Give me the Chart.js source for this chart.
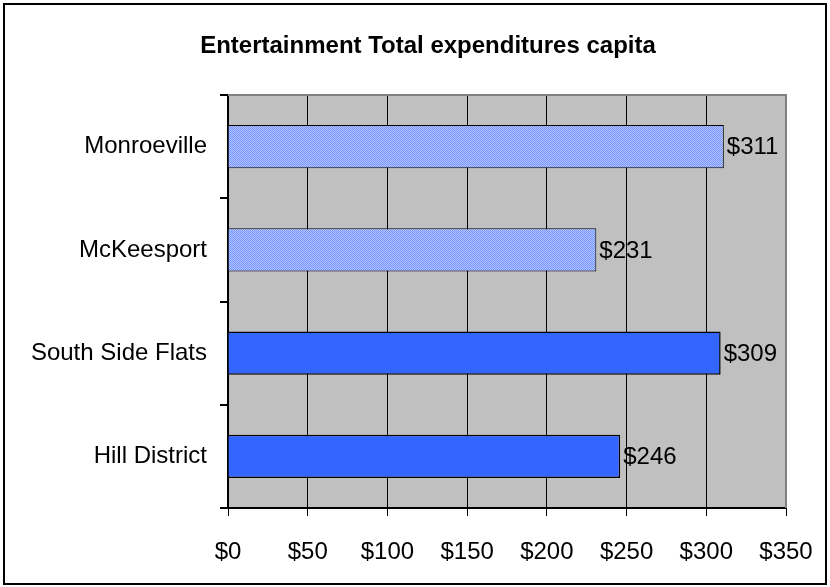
<!DOCTYPE html>
<html>
<head>
<meta charset="utf-8">
<script src="https://cdn.jsdelivr.net/npm/chart.js@4/dist/chart.umd.min.js"></script>
<style>
  html, body { margin: 0; padding: 0; background: #ffffff; }
  #wrap { width: 830px; height: 587px; position: relative; }
</style>
</head>
<body>
<div id="wrap"><canvas id="c" width="830" height="587"></canvas></div>
<script>
const chartTitle = 'Entertainment Total expenditures capita';
const categories = ['Monroeville', 'McKeesport', 'South Side Flats', 'Hill District'];
const expenditures = [311, 231, 309, 246];
const patterned = [true, true, false, false];
const xTickMax = 350;
const xTickStep = 50;

const FONT = '"Liberation Sans", Arial, sans-serif';

// small checkered fill used for the lighter bars
function makeChecker() {
  const p = document.createElement('canvas');
  p.width = 2; p.height = 2;
  const g = p.getContext('2d');
  g.fillStyle = '#b4c4ff'; g.fillRect(0, 0, 2, 2);
  g.fillStyle = '#7695ff'; g.fillRect(0, 0, 1, 1); g.fillRect(1, 1, 1, 1);
  return g.createPattern(p, 'repeat');
}
const ctxMain = document.getElementById('c').getContext('2d');
const checker = makeChecker();

const decor = {
  id: 'decor',
  beforeDraw(chart) {
    const { ctx, chartArea: a } = chart;
    ctx.save();
    ctx.fillStyle = '#ffffff';
    ctx.fillRect(0, 0, chart.width, chart.height);
    ctx.fillStyle = '#c0c0c0';
    ctx.fillRect(a.left, a.top, a.right - a.left, a.bottom - a.top);
    ctx.restore();
  },
  afterDatasetsDraw(chart) {
    const { ctx, chartArea: a } = chart;
    ctx.save();
    // plot frame top and right
    ctx.strokeStyle = '#808080';
    ctx.lineWidth = 2;
    ctx.beginPath();
    ctx.moveTo(a.left, a.top);
    ctx.lineTo(a.right, a.top);
    ctx.lineTo(a.right, a.bottom);
    ctx.stroke();
    // value labels
    const meta = chart.getDatasetMeta(0);
    ctx.fillStyle = '#000000';
    ctx.font = '24px ' + FONT;
    ctx.textAlign = 'left';
    ctx.textBaseline = 'middle';
    meta.data.forEach((bar, i) => {
      ctx.fillText('$' + expenditures[i], bar.x + 3, bar.y + 1);
    });
    ctx.restore();
  },
  afterDraw(chart) {
    const { ctx } = chart;
    ctx.save();
    ctx.fillStyle = '#000000';
    ctx.font = 'bold 24px ' + FONT;
    ctx.textAlign = 'center';
    ctx.textBaseline = 'middle';
    ctx.fillText(chartTitle, 428, 46);
    ctx.strokeStyle = '#000000';
    ctx.lineWidth = 2;
    ctx.strokeRect(4, 4, 822, 580);
    ctx.restore();
  }
};

new Chart(ctxMain, {
  type: 'bar',
  data: {
    labels: categories,
    datasets: [{
      data: expenditures,
      backgroundColor: patterned.map(p => p ? checker : '#3366ff'),
      borderColor: '#000000',
      borderWidth: patterned.map(p => p ? 1 : 1.5),
      barPercentage: 0.42,
      categoryPercentage: 1.0
    }]
  },
  options: {
    indexAxis: 'y',
    responsive: false,
    animation: false,
    devicePixelRatio: 1,
    layout: { padding: { top: 95, right: 44, bottom: 0, left: 0 } },
    plugins: { legend: { display: false }, title: { display: false }, tooltip: { enabled: false } },
    scales: {
      x: {
        min: 0,
        max: xTickMax,
        ticks: {
          stepSize: xTickStep,
          color: '#000000',
          font: { family: FONT, size: 24 },
          padding: 22,
          callback: v => '$' + v
        },
        grid: { color: '#000000', lineWidth: 1, tickLength: 8, drawOnChartArea: true },
        border: { color: '#000000', width: 2 },
        afterFit(s) { s.height = 79; s.paddingLeft = 0; s.paddingRight = 0; }
      },
      y: {
        offset: true,
        ticks: {
          color: '#000000',
          font: { family: FONT, size: 24 },
          padding: 13
        },
        grid: { offset: true, drawOnChartArea: false, color: '#000000', lineWidth: 2, tickLength: 8 },
        border: { color: '#000000', width: 2 },
        afterFit(s) { s.width = 228; }
      }
    }
  },
  plugins: [decor]
});
</script>
</body>
</html>
